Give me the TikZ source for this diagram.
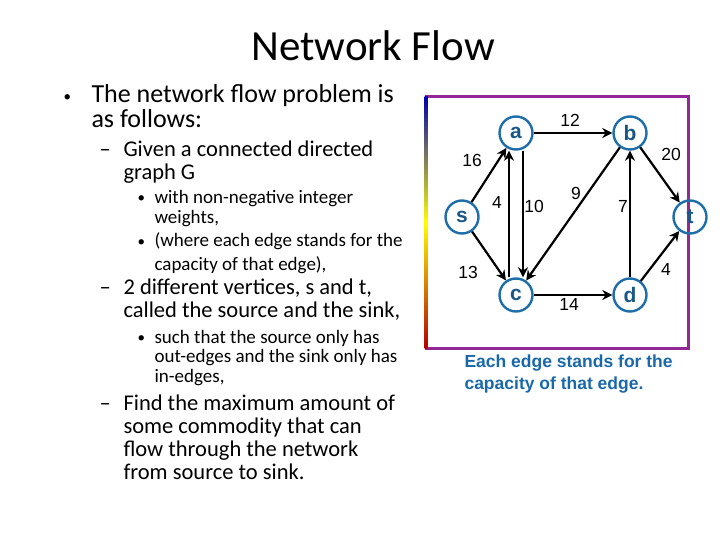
\documentclass[tikz,border=0pt]{standalone}
\usepackage{fontspec}
\setmainfont{Carlito}
\newfontfamily\arialf{Liberation Sans}
\usetikzlibrary{arrows.meta}
\definecolor{nodeblue}{RGB}{30,110,170}
\definecolor{capblue}{RGB}{25,105,170}
\definecolor{framepurple}{RGB}{145,40,150}
\begin{document}
\begin{tikzpicture}[x=1pt,y=-1pt,
  vtx/.style={circle,draw=nodeblue,line width=2.4pt,minimum size=33pt,inner sep=0pt,font=\arialf\bfseries\fontsize{21}{21}\selectfont,text=nodeblue!80!black},
  edge/.style={draw=black,line width=2.2pt,-{Stealth[length=10pt,width=10pt]}},
  lab/.style={font=\arialf\fontsize{17.5}{17.5}\selectfont},
  t1/.style={anchor=base west,font=\fontsize{26}{26}\selectfont},
  t2/.style={anchor=base west,font=\fontsize{22.5}{22.5}\selectfont},
  t3/.style={anchor=base west,font=\fontsize{19}{19}\selectfont},
  bul/.style={anchor=base west,font=\fontsize{15}{15}\selectfont}]
\useasboundingbox (0,0) rectangle (720,540);
\node[font=\fontsize{43}{43}\selectfont] (title) at (373,46) {Network Flow};
% left text
\node[bul] (b1) at (60,102) {\textbullet};
\node[t1] (l1) at (88,103) {The network flow problem is};
\node[t1] (l2) at (88,128) {as follows:};
\node[t2] (d1) at (96,157) {--};
\node[t2] (l3) at (120,157) {Given a connected directed};
\node[t2] (l4) at (120,180) {graph G};
\node[bul] (b2) at (134,203) {\textbullet};
\node[t3] (l5) at (151,204) {with non-negative integer};
\node[t3] (l6) at (151,223) {weights,};
\node[bul] (b3) at (134,246) {\textbullet};
\node[t3] (l7) at (151,247) {(where each edge stands for the};
\node[t3] (l8) at (151,270) {capacity of that edge),};
\node[t2] (d2) at (96,294) {--};
\node[t2] (l9) at (120,294) {2 different vertices, s and t,};
\node[t2] (l10) at (120,317) {called the source and the sink,};
\node[bul] (b4) at (134,342) {\textbullet};
\node[t3] (l11) at (151,343) {such that the source only has};
\node[t3] (l12) at (151,362) {out-edges and the sink only has};
\node[t3] (l13) at (151,382) {in-edges,};
\node[t2] (d3) at (96,410) {--};
\node[t2] (l14) at (120,410) {Find the maximum amount of};
\node[t2] (l15) at (120,433) {some commodity that can};
\node[t2] (l16) at (120,456) {flow through the network};
\node[t2] (l17) at (120,479) {from source to sink.};
% frame
\draw[framepurple,line width=3pt] (426,97) rectangle (688,348);
\shade[top color=blue!70!black,bottom color=red!70!black,middle color=yellow] (424.5,97) rectangle (427.5,348);
% graph
\node[vtx] (a) at (516,133) {a};
\node[vtx] (b) at (630,133) {b};
\node[vtx] (s) at (462,217) {s};
\node[vtx] (t) at (690,217) {t};
\node[vtx] (c) at (516,295) {c};
\node[vtx] (d) at (630,295) {d};
\draw[edge] (s) -- (a);
\draw[edge] (s) -- (c);
\draw[edge] (a) -- (b);
\draw[edge] ([xshift=7pt]a.south) -- ([xshift=7pt]c.north);
\draw[edge] ([xshift=-7pt]c.north) -- ([xshift=-7pt]a.south);
\draw[edge] (b) -- (c);
\draw[edge] (c) -- (d);
\draw[edge] (d) -- (b);
\draw[edge] (b) -- (t);
\draw[edge] (d) -- (t);
\node[lab] (w1) at (570,120) {12};
\node[lab] (w2) at (472,160) {16};
\node[lab] (w3) at (671,154) {20};
\node[lab] (w4) at (497,202) {4};
\node[lab] (w5) at (534,206) {10};
\node[lab] (w6) at (576,193) {9};
\node[lab] (w7) at (623,206) {7};
\node[lab] (w8) at (468,272) {13};
\node[lab] (w9) at (666,269) {4};
\node[lab] (w10) at (569,304) {14};
\node[anchor=west,align=left,text=capblue,font=\arialf\bfseries\fontsize{17.5}{22}\selectfont] (cap) at (461,374) {Each edge stands for the\\capacity of that edge.};
\end{tikzpicture}
\end{document}
